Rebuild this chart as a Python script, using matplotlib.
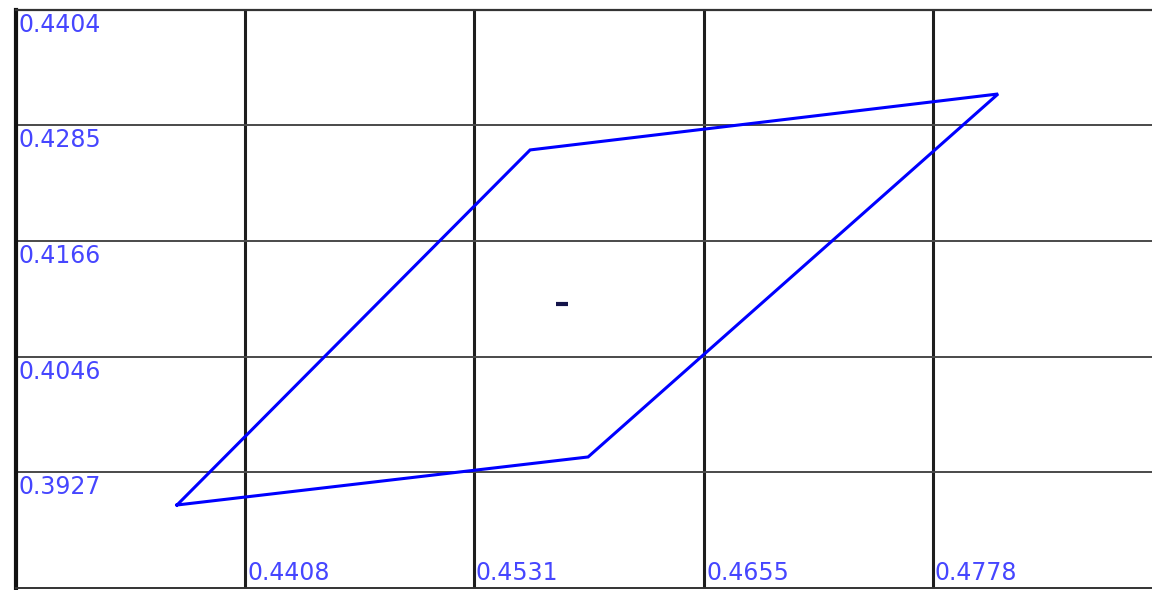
import matplotlib
matplotlib.use("Agg")
import matplotlib.pyplot as plt

# Tick values shown on the grid
x_ticks = [0.4408, 0.4531, 0.4655, 0.4778]
y_ticks = [0.3927, 0.4046, 0.4166, 0.4285, 0.4404]

# Parallelogram corners (closed loop)
poly_x = [0.43714, 0.45613, 0.48130, 0.45925, 0.43714]
poly_y = [0.38929, 0.42595, 0.43173, 0.39425, 0.38929]

# Centre point
center_x = [0.45785]
center_y = [0.41004]

x_min, x_max = 0.42848, 0.48958
y_min, y_max = 0.38072, 0.4404

label_color = "#4646ff"

fig = plt.figure(figsize=(11.52, 5.90), dpi=100)
ax = fig.add_axes([16 / 1152, 2 / 590, 1136 / 1152, 578 / 590])

ax.plot(poly_x, poly_y, color="#0000ff", linewidth=2.2, solid_joinstyle="miter")
ax.plot(center_x, center_y, marker="_", markersize=9, markeredgewidth=3,
        color="#14144a", linestyle="none")

ax.set_xlim(x_min, x_max)
ax.set_ylim(y_min, y_max)

# Grid lines: thick dark verticals, thinner grey horizontals
for v in x_ticks:
    ax.axvline(v, color="#1e1e1e", linewidth=2.2, zorder=0)
for v in y_ticks:
    ax.axhline(v, color="#4a4a4a", linewidth=1.4, zorder=0)

ax.set_xticks([])
ax.set_yticks([])

ax.spines["right"].set_visible(False)
ax.spines["left"].set_linewidth(3.0)
ax.spines["left"].set_color("#111111")
ax.spines["top"].set_linewidth(1.6)
ax.spines["top"].set_color("#333333")
ax.spines["bottom"].set_linewidth(1.4)
ax.spines["bottom"].set_color("#333333")

# Tick labels drawn inside the plot, next to each grid line
for v in y_ticks:
    ax.annotate(f"{v:.4f}", xy=(x_min, v), xytext=(3, -3),
                textcoords="offset pixels", ha="left", va="top",
                fontsize=17, color=label_color, family="DejaVu Sans",
                annotation_clip=False)
for v in x_ticks:
    ax.annotate(f"{v:.4f}", xy=(v, y_min), xytext=(2, 3),
                textcoords="offset pixels", ha="left", va="bottom",
                fontsize=17, color=label_color, family="DejaVu Sans",
                annotation_clip=False)

fig.savefig("out.png", dpi=100)
